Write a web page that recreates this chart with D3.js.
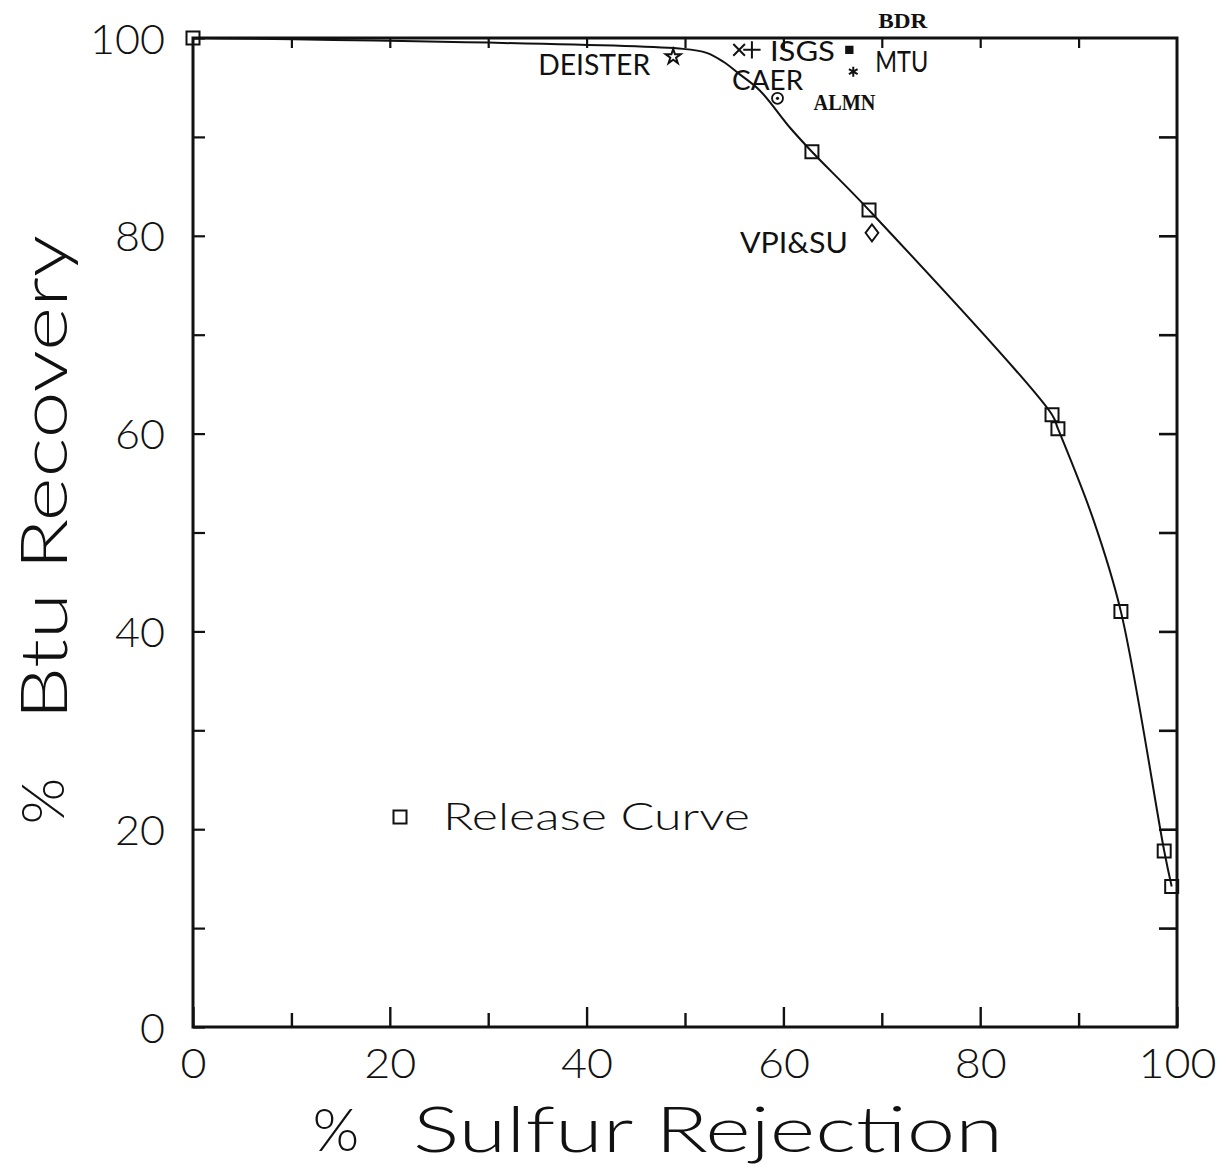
<!DOCTYPE html>
<html>
<head>
<meta charset="utf-8">
<script src="https://cdn.jsdelivr.net/npm/d3@7"></script>
<style>
  html, body { margin: 0; padding: 0; background: #ffffff; }
  svg { display: block; }
</style>
</head>
<body>
<svg id="chart" width="1226" height="1169"></svg>
<script>
// Release curve: marked points (% sulfur rejection vs % Btu recovery)
const releaseRejection = [0, 62.9, 68.7, 87.3, 87.9, 94.3, 98.7, 99.46];
const releaseRecovery  = [100, 88.5, 82.6, 61.9, 60.5, 42.0, 17.8, 14.2];

// Traced release curve (knots along the drawn line)
const curveRejection = [0, 49.8, 52.2, 53.9, 55.6, 57.6, 60.7, 62.9, 68.7, 87.3, 87.9, 91.5, 94.3, 98.7, 99.46];
const curveRecovery  = [100, 98.9, 98.5, 97.6, 96.3, 94.7, 90.9, 88.5, 82.6, 61.9, 60.5, 51.3, 42.0, 17.8, 14.2];

// Individual laboratory results
const labNames     = ["DEISTER", "CAER", "ISGS", "ALMN", "BDR", "MTU", "VPI&SU"];
const labRejection = [48.8, 55.5, 56.8, 59.4, 66.7, 67.1, 69.0];
const labRecovery  = [98.1, 98.8, 98.8, 93.9, 98.8, 96.6, 80.3];

// Axis tick labels
const xTickLabels = [0, 20, 40, 60, 80, 100];
const yTickLabels = [0, 20, 40, 60, 80, 100];
const minorTicks  = [10, 20, 30, 40, 50, 60, 70, 80, 90];

const xTitle = "Sulfur Rejection";
const yTitle = "Btu Recovery";
const legendLabel = "Release Curve";

const SANS = "Lato, 'Open Sans', 'DejaVu Sans', sans-serif";
const SERIF = "'Liberation Serif', 'DejaVu Serif', serif";

const svg = d3.select("#chart");
const x = d3.scaleLinear().domain([0, 100]).range([193, 1177]);
const y = d3.scaleLinear().domain([0, 100]).range([1027, 38]);

// Frame
svg.append("rect")
  .attr("x", x(0)).attr("y", y(100))
  .attr("width", x(100) - x(0)).attr("height", y(0) - y(100))
  .attr("fill", "none").attr("stroke", "#111").attr("stroke-width", 3);

// Bottom axis: inward ticks every 10, labels every 20
const gx = svg.append("g").attr("transform", `translate(0,${y(0)})`)
  .call(d3.axisBottom(x).tickValues(d3.range(0, 101, 10))
    .tickFormat(d => xTickLabels.includes(d) ? d : "")
    .tickSizeOuter(0).tickSizeInner(-20));
gx.select(".domain").remove();
gx.selectAll(".tick line")
  .attr("y2", d => d % 20 === 0 ? -20 : -14)
  .attr("stroke", "#111").attr("stroke-width", 2.4);
gx.selectAll(".tick text")
  .attr("y", 51).attr("dy", 0)
  .attr("font-family", SANS).attr("font-weight", 300).attr("font-size", 41)
  .attr("fill", "#111")
  .attr("textLength", function () { return this.textContent.length * 26; })
  .attr("lengthAdjust", "spacingAndGlyphs");

// Left axis
const gy = svg.append("g").attr("transform", `translate(${x(0)},0)`)
  .call(d3.axisLeft(y).tickValues(d3.range(0, 101, 10))
    .tickFormat(d => yTickLabels.includes(d) ? d : "")
    .tickSizeOuter(0).tickSizeInner(-12));
gy.select(".domain").remove();
gy.selectAll(".tick line").attr("stroke", "#111").attr("stroke-width", 2.2);
gy.selectAll(".tick text")
  .attr("x", -28).attr("dy", "0.36em")
  .attr("font-family", SANS).attr("font-weight", 300).attr("font-size", 42)
  .attr("fill", "#111")
  .attr("textLength", function () { return this.textContent.length * 25; })
  .attr("lengthAdjust", "spacingAndGlyphs");

// Top and right axes: ticks only
const gt = svg.append("g").attr("transform", `translate(0,${y(100)})`)
  .call(d3.axisTop(x).tickValues(minorTicks).tickFormat("").tickSizeOuter(0).tickSizeInner(-10));
gt.select(".domain").remove();
gt.selectAll(".tick line").attr("stroke", "#111").attr("stroke-width", 2.2);

const gr = svg.append("g").attr("transform", `translate(${x(100)},0)`)
  .call(d3.axisRight(y).tickValues(minorTicks).tickFormat("").tickSizeOuter(0).tickSizeInner(-18));
gr.select(".domain").remove();
gr.selectAll(".tick line").attr("stroke", "#111").attr("stroke-width", 2.6);

// Release curve line
const curvePts = curveRejection.map((s, i) => [s, curveRecovery[i]]);
svg.append("path")
  .datum(curvePts)
  .attr("fill", "none").attr("stroke", "#111").attr("stroke-width", 2)
  .attr("d", d3.line().x(d => x(d[0])).y(d => y(d[1])).curve(d3.curveCatmullRom.alpha(0.5)));

// Release curve markers
const sq = d3.symbol().type(d3.symbolSquare).size(169);
svg.append("g").selectAll("path")
  .data(releaseRejection.map((s, i) => [s, releaseRecovery[i]]))
  .join("path")
  .attr("transform", d => `translate(${x(d[0])},${y(d[1])})`)
  .attr("d", sq)
  .attr("fill", "none").attr("stroke", "#111").attr("stroke-width", 2);

// Laboratory markers and labels
const labStyle = {
  "DEISTER": { sym: d3.symbolStar, size: 70, fill: false, dx: -23, dy: 18, anchor: "end", w: 112, font: SANS, fs: 28 },
  "CAER":    { sym: d3.symbolTimes, size: 90, fill: false, dx: -7, dy: 40, anchor: "start", w: 71, font: SANS, fs: 27 },
  "ISGS":    { sym: d3.symbolPlus, size: 100, fill: false, dx: 18, dy: 11, anchor: "start", w: 65, font: SANS, fs: 27 },
  "ALMN":    { sym: null, dx: 36, dy: 12, anchor: "start", w: 62, font: SERIF, fs: 23, weight: 700 },
  "BDR":     { sym: d3.symbolSquare, size: 40, fill: true, dx: 29, dy: -22, anchor: "start", w: 49, font: SERIF, fs: 21, weight: 700 },
  "MTU":     { sym: d3.symbolAsterisk, size: 70, fill: false, dx: 22, dy: 0, anchor: "start", w: 53, font: SANS, fs: 28 },
  "VPI&SU":  { sym: d3.symbolDiamond, size: 84, fill: false, sx: 1.3, dx: -24, dy: 20, anchor: "end", w: 108, font: SANS, fs: 28 }
};

const labs = labNames.map((n, i) => ({ name: n, s: labRejection[i], r: labRecovery[i] }));
const gl = svg.append("g");
labs.forEach(d => {
  const st = labStyle[d.name];
  const px = x(d.s), py = y(d.r);
  const g = gl.append("g").attr("transform", `translate(${px},${py})`);
  if (st.sym) {
    g.append("path")
      .attr("d", d3.symbol().type(st.sym).size(st.size))
      .attr("transform", st.sx ? `scale(${st.sx},1)` : null)
      .attr("fill", st.fill ? "#111" : "none")
      .attr("stroke", "#111")
      .attr("stroke-width", st.sx ? 1.6 : 2);
  } else {
    g.append("circle").attr("r", 5.5).attr("fill", "none").attr("stroke", "#111").attr("stroke-width", 1.8);
    g.append("circle").attr("r", 1.6).attr("fill", "#111");
  }
  g.append("text")
    .attr("x", st.dx).attr("y", st.dy)
    .attr("text-anchor", st.anchor)
    .attr("font-family", st.font)
    .attr("font-weight", st.weight || 400)
    .attr("font-size", st.fs)
    .attr("fill", "#111")
    .attr("textLength", st.w).attr("lengthAdjust", "spacingAndGlyphs")
    .text(d.name);
});

// Legend
const lg = svg.append("g").attr("transform", "translate(400,817)");
lg.append("path").attr("d", sq).attr("fill", "none").attr("stroke", "#111").attr("stroke-width", 2);
lg.append("text").attr("x", 43).attr("y", 13)
  .attr("font-family", SANS).attr("font-weight", 300).attr("font-size", 38).attr("fill", "#111")
  .attr("textLength", 307).attr("lengthAdjust", "spacingAndGlyphs")
  .text(legendLabel);

// Axis titles
svg.append("text").attr("x", 336).attr("y", 1151).attr("text-anchor", "middle")
  .attr("font-family", SANS).attr("font-weight", 300).attr("font-size", 60).attr("fill", "#111")
  .text("%");
svg.append("text").attr("x", 413).attr("y", 1152)
  .attr("font-family", SANS).attr("font-weight", 300).attr("font-size", 64).attr("fill", "#111")
  .attr("textLength", 590).attr("lengthAdjust", "spacingAndGlyphs")
  .text(xTitle);

svg.append("text").attr("transform", "translate(64,801) rotate(-90)").attr("text-anchor", "middle")
  .attr("font-family", SANS).attr("font-weight", 300).attr("font-size", 60).attr("fill", "#111")
  .text("%");
svg.append("text").attr("transform", "translate(67,720) rotate(-90)")
  .attr("font-family", SANS).attr("font-weight", 300).attr("font-size", 66).attr("fill", "#111")
  .attr("textLength", 485).attr("lengthAdjust", "spacingAndGlyphs")
  .text(yTitle);
</script>
</body>
</html>
